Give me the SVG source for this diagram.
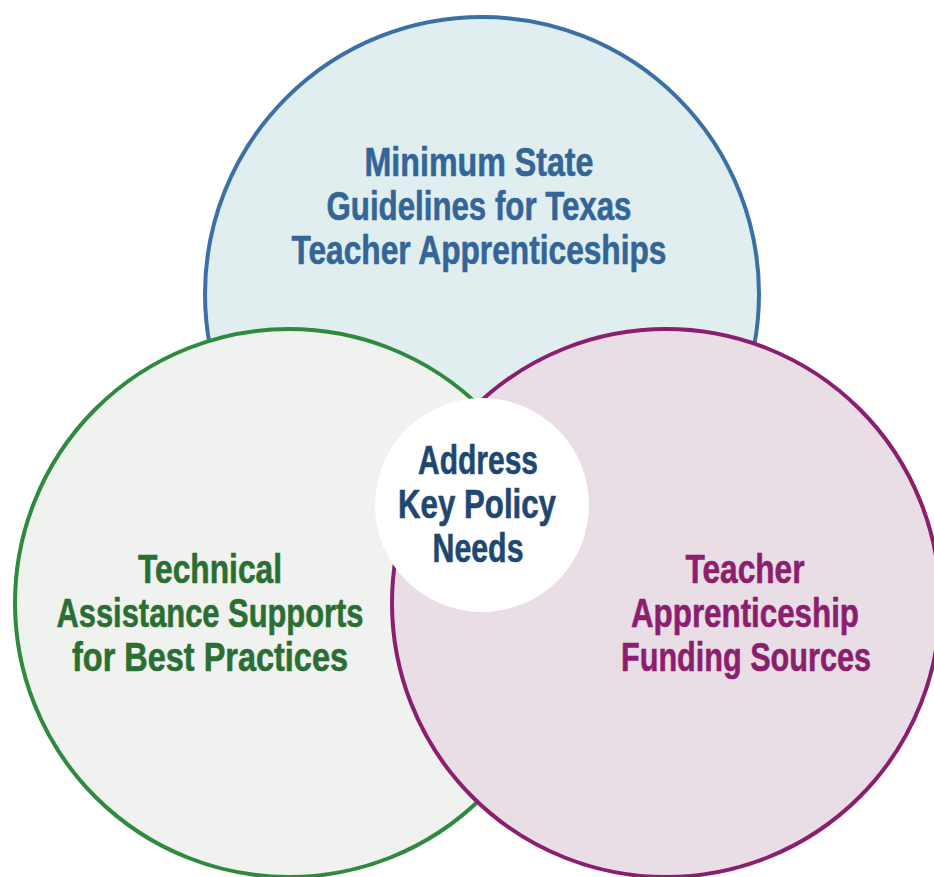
<svg xmlns="http://www.w3.org/2000/svg" width="934" height="877" viewBox="0 0 934 877">
<style>
.lbl{font-family:"Liberation Sans Narrow","Liberation Sans",Arial,sans-serif;font-weight:bold;font-size:40px;text-anchor:middle;stroke-width:0.6;stroke-linejoin:round}
.ring{stroke-width:4}
</style>
<rect width="934" height="877" fill="#ffffff"/>
<g id="guidelines">
<circle class="ring" cx="482" cy="294" r="277" fill="#e0eef0" stroke="#3b70a6"/>
<text class="lbl" fill="#346597" stroke="#346597"><tspan x="479" y="176" textLength="229" lengthAdjust="spacingAndGlyphs">Minimum State</tspan><tspan x="479" y="220" textLength="305" lengthAdjust="spacingAndGlyphs">Guidelines for Texas</tspan><tspan x="479" y="264" textLength="375" lengthAdjust="spacingAndGlyphs">Teacher Apprenticeships</tspan></text>
</g>
<g id="technical">
<circle class="ring" cx="289" cy="603" r="274" fill="#eff2ee" stroke="#2f8a3f"/>
<text class="lbl" fill="#2a6e34" stroke="#2a6e34"><tspan x="210" y="583" textLength="144" lengthAdjust="spacingAndGlyphs">Technical</tspan><tspan x="210" y="627" textLength="307" lengthAdjust="spacingAndGlyphs">Assistance Supports</tspan><tspan x="210" y="671" textLength="276" lengthAdjust="spacingAndGlyphs">for Best Practices</tspan></text>
</g>
<g id="funding">
<circle class="ring" cx="666" cy="603" r="274" fill="#e9dde6" stroke="#8a1e6f"/>
<text class="lbl" fill="#8b1f6d" stroke="#8b1f6d"><tspan x="745" y="583" textLength="119" lengthAdjust="spacingAndGlyphs">Teacher</tspan><tspan x="745" y="627" textLength="228" lengthAdjust="spacingAndGlyphs">Apprenticeship</tspan><tspan x="746" y="671" textLength="250" lengthAdjust="spacingAndGlyphs">Funding Sources</tspan></text>
</g>
<g id="center">
<circle cx="482" cy="505" r="107" fill="#ffffff"/>
<text class="lbl" fill="#1f4870" stroke="#1f4870"><tspan x="478" y="474" textLength="120" lengthAdjust="spacingAndGlyphs">Address</tspan><tspan x="477" y="518" textLength="158" lengthAdjust="spacingAndGlyphs">Key Policy</tspan><tspan x="478" y="562" textLength="91" lengthAdjust="spacingAndGlyphs">Needs</tspan></text>
</g>
<g id="connectors"></g>
</svg>
